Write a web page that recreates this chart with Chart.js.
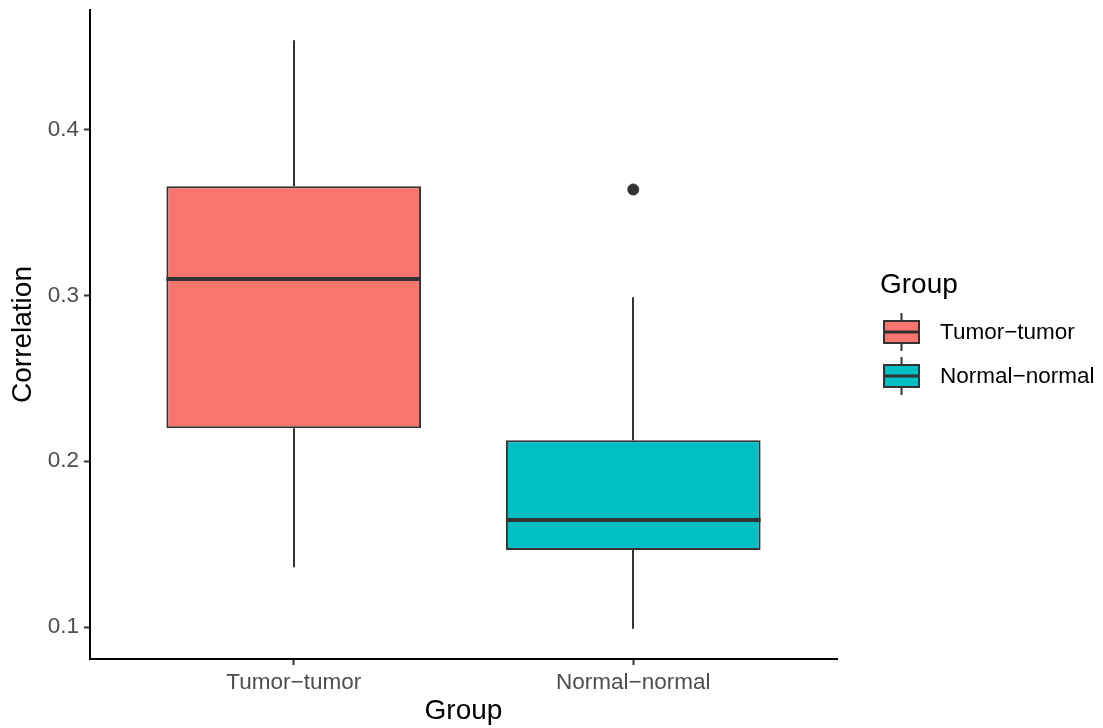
<!DOCTYPE html>
<html>
<head>
<meta charset="utf-8">
<script src="https://cdn.jsdelivr.net/npm/chart.js@4/dist/chart.umd.min.js"></script>
<style>
  html, body { margin: 0; padding: 0; background: #fff; }
  canvas { display: block; }
</style>
</head>
<body>
<canvas id="c" width="1103" height="728"></canvas>
<script>
// Box-plot summary per group
const groups = ['Tumor\u2212tumor', 'Normal\u2212normal'];
const whiskerLow = [0.136, 0.099];
const q1 = [0.220, 0.1464];
const median = [0.310, 0.1645];
const q3 = [0.366, 0.2127];
const whiskerHigh = [0.454, 0.299];
const outlierGroup = [2];
const outlierValue = [0.364];
const fills = ['#F8766D', '#00BFC4'];
const yTicks = [0.1, 0.2, 0.3, 0.4];

const FONT = "'Liberation Sans', Arial, sans-serif";
const INK = '#333333';

const positions = groups.map((g, i) => i + 1);

// Whiskers (behind the boxes) and medians (on top)
const boxPlotLines = {
  id: 'boxPlotLines',
  beforeDatasetsDraw(chart) {
    const { ctx, scales: { x, y } } = chart;
    ctx.save();
    ctx.strokeStyle = INK;
    ctx.lineWidth = 2;
    positions.forEach((p, i) => {
      const px = Math.round(x.getPixelForValue(p));
      ctx.beginPath();
      ctx.moveTo(px, y.getPixelForValue(whiskerHigh[i]));
      ctx.lineTo(px, y.getPixelForValue(q3[i]));
      ctx.moveTo(px, y.getPixelForValue(q1[i]));
      ctx.lineTo(px, y.getPixelForValue(whiskerLow[i]));
      ctx.stroke();
    });
    ctx.restore();
  },
  afterDatasetsDraw(chart) {
    const { ctx, scales: { y } } = chart;
    const meta = chart.getDatasetMeta(0);
    ctx.save();
    ctx.strokeStyle = INK;
    ctx.lineWidth = 4;
    meta.data.forEach((bar, i) => {
      const half = bar.width / 2;
      const py = y.getPixelForValue(median[i]);
      ctx.beginPath();
      ctx.moveTo(bar.x - half, py);
      ctx.lineTo(bar.x + half, py);
      ctx.stroke();
    });
    ctx.restore();
  }
};

// Legend with box-plot keys
const boxLegend = {
  id: 'boxLegend',
  afterDraw(chart) {
    const { ctx } = chart;
    ctx.save();
    ctx.fillStyle = '#000';
    ctx.textBaseline = 'middle';
    ctx.textAlign = 'left';
    ctx.font = `28px ${FONT}`;
    ctx.fillText('Group', 880, 285);
    ctx.font = `22.5px ${FONT}`;
    const rows = [332, 376];
    groups.forEach((g, i) => {
      const cy = rows[i];
      const left = 884, right = 919, top = cy - 11, bottom = cy + 11;
      const cx = (left + right) / 2;
      ctx.strokeStyle = INK;
      ctx.lineWidth = 2;
      ctx.beginPath();
      ctx.moveTo(cx, cy - 19);
      ctx.lineTo(cx, cy + 19);
      ctx.stroke();
      ctx.fillStyle = fills[i];
      ctx.fillRect(left, top, right - left, bottom - top);
      ctx.strokeRect(left, top, right - left, bottom - top);
      ctx.lineWidth = 3;
      ctx.beginPath();
      ctx.moveTo(left, cy);
      ctx.lineTo(right, cy);
      ctx.stroke();
      ctx.fillStyle = '#000';
      ctx.fillText(g, 940, cy + 1);
    });
    ctx.restore();
  }
};

function noEdgePadding(scale) {
  scale.paddingTop = 0;
  scale.paddingBottom = 0;
  scale.paddingLeft = 0;
  scale.paddingRight = 0;
}

new Chart(document.getElementById('c'), {
  data: {
    datasets: [
      {
        type: 'bar',
        data: positions.map((p, i) => ({ x: p, y: [q1[i], q3[i]] })),
        backgroundColor: fills,
        borderColor: INK,
        borderWidth: 2,
        borderSkipped: false,
        barPercentage: 0.75,
        categoryPercentage: 1,
        order: 2
      },
      {
        type: 'scatter',
        data: outlierGroup.map((g, i) => ({ x: g, y: outlierValue[i] })),
        backgroundColor: INK,
        borderColor: INK,
        pointRadius: 5.5,
        order: 1
      }
    ]
  },
  options: {
    responsive: false,
    animation: false,
    layout: { padding: { top: 10, right: 266, left: 0, bottom: 0 } },
    plugins: { legend: { display: false }, tooltip: { enabled: false } },
    scales: {
      x: {
        type: 'linear',
        min: 0.4,
        max: 2.6,
        offset: false,
        afterBuildTicks(scale) { scale.ticks = positions.map(v => ({ value: v })); },
        afterFit(scale) { scale.height = 69; noEdgePadding(scale); },
        border: { display: true, color: '#000', width: 2 },
        grid: { offset: false, drawOnChartArea: false, drawTicks: true, tickLength: 6, color: INK, tickWidth: 2 },
        ticks: {
          color: '#4D4D4D',
          font: { family: FONT, size: 22.5 },
          padding: 4,
          maxRotation: 0,
          autoSkip: false,
          callback: (v) => groups[v - 1] || ''
        },
        title: {
          display: true,
          text: 'Group',
          color: '#000',
          font: { family: FONT, size: 28 },
          padding: { top: 0, bottom: 0 }
        }
      },
      y: {
        type: 'linear',
        min: 0.0807,
        max: 0.4723,
        afterBuildTicks(scale) { scale.ticks = yTicks.map(v => ({ value: v })); },
        afterFit(scale) { scale.width = 90; noEdgePadding(scale); },
        border: { display: true, color: '#000', width: 2 },
        grid: { drawOnChartArea: false, drawTicks: true, tickLength: 6, color: INK, tickWidth: 2 },
        ticks: {
          color: '#4D4D4D',
          font: { family: FONT, size: 22.5 },
          padding: 5,
          callback: (v) => v.toFixed(1)
        },
        title: {
          display: true,
          text: 'Correlation',
          color: '#000',
          font: { family: FONT, size: 28 },
          padding: { top: 6, bottom: 0 }
        }
      }
    }
  },
  plugins: [boxPlotLines, boxLegend]
});
</script>
</body>
</html>
